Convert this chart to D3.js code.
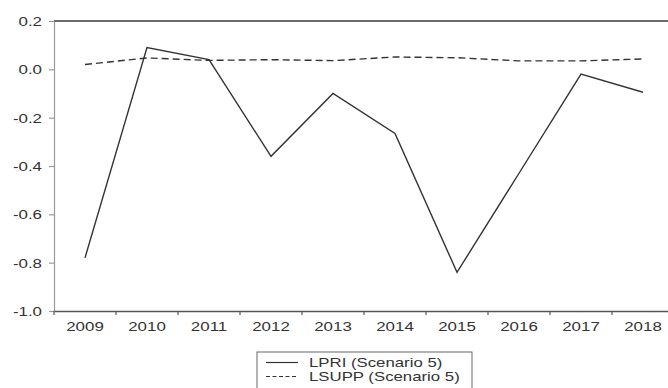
<!DOCTYPE html>
<html>
<head>
<meta charset="utf-8">
<script src="https://cdn.jsdelivr.net/npm/d3@7"></script>
<style>
  html, body { margin: 0; padding: 0; background: #fff; overflow: hidden; }
  svg { display: block; font-family: "Liberation Sans", Arial, sans-serif; }
</style>
</head>
<body>
<svg id="chart" width="668" height="388"></svg>
<script>
const years = ["2009","2010","2011","2012","2013","2014","2015","2016","2017","2018"];
const lpri  = [-0.78, 0.09, 0.04, -0.36, -0.10, -0.265, -0.84, -0.43, -0.02, -0.095];
const lsupp = [0.02, 0.047, 0.037, 0.04, 0.036, 0.051, 0.048, 0.035, 0.035, 0.043];
const yTicks = [0.2, 0.0, -0.2, -0.4, -0.6, -0.8, -1.0];
const seriesNames = ["LPRI (Scenario 5)", "LSUPP (Scenario 5)"];

const svg = d3.select("#chart");
const mLeft = 54, mTop = 21, mBottom = 311, band = 62;
const stretch = 1.3;
const ink = "#333";

const x = d3.scaleBand().domain(years).range([mLeft, mLeft + band * years.length]).padding(0);
const y = d3.scaleLinear().domain([-1.0, 0.2]).range([mBottom, mTop]);
const cx = d => x(d) + x.bandwidth() / 2;

// top frame line
svg.append("line")
  .attr("x1", mLeft).attr("x2", 668).attr("y1", mTop).attr("y2", mTop)
  .attr("stroke", "#3a3a3a").attr("stroke-width", 1.3);

// y axis
const yAxis = svg.append("g").attr("transform", `translate(${mLeft},0)`)
  .call(d3.axisLeft(y).tickValues(yTicks).tickSize(5).tickSizeOuter(0)
    .tickFormat(d => d3.format(".1f")(d).replace("\u2212", "-")));
yAxis.select(".domain").attr("stroke", "#999").attr("stroke-width", 1.2);
yAxis.selectAll(".tick line").attr("stroke", "#999").attr("stroke-width", 1.2);
yAxis.selectAll(".tick text")
  .attr("x", 0).attr("dy", "0.35em")
  .attr("transform", `translate(-12,0) scale(${stretch},1)`)
  .attr("fill", ink).style("font-size", "13px").attr("text-anchor", "end");

// x axis
const xAxis = svg.append("g").attr("transform", `translate(0,${mBottom})`)
  .call(d3.axisBottom(x).tickSize(4).tickPadding(7).tickSizeOuter(0));
xAxis.select(".domain").attr("stroke", "#555").attr("stroke-width", 1.3);
xAxis.selectAll(".tick line")
  .attr("x1", -x.bandwidth() / 2).attr("x2", -x.bandwidth() / 2)
  .attr("stroke", "#555").attr("stroke-width", 1.2);
xAxis.selectAll(".tick text")
  .attr("transform", `scale(${stretch},1)`)
  .attr("fill", ink).style("font-size", "13px");

// lines
const line = d3.line().x((d, i) => cx(years[i])).y(d => y(d));
svg.append("path").datum(lpri)
  .attr("d", line).attr("fill", "none")
  .attr("stroke", ink).attr("stroke-width", 1.4).attr("stroke-linejoin", "miter");
svg.append("path").datum(lsupp)
  .attr("d", line).attr("fill", "none")
  .attr("stroke", ink).attr("stroke-width", 1.4).attr("stroke-dasharray", "7,4");

// legend
const lg = svg.append("g");
lg.append("rect").attr("x", 257).attr("y", 352).attr("width", 215).attr("height", 45)
  .attr("fill", "#fff").attr("stroke", "#666").attr("stroke-width", 1);
const rows = [362.5, 376.5];
seriesNames.forEach((name, i) => {
  lg.append("line").attr("x1", 266).attr("x2", 298).attr("y1", rows[i]).attr("y2", rows[i])
    .attr("stroke", ink).attr("stroke-width", 1.2)
    .attr("stroke-dasharray", i === 1 ? "4,2.5" : null);
  lg.append("text").attr("x", 0).attr("y", 0).attr("dy", "0.35em")
    .attr("transform", `translate(309,${rows[i]}) scale(1.4,1)`)
    .attr("fill", ink).style("font-size", "12px").text(name);
});
</script>
</body>
</html>
